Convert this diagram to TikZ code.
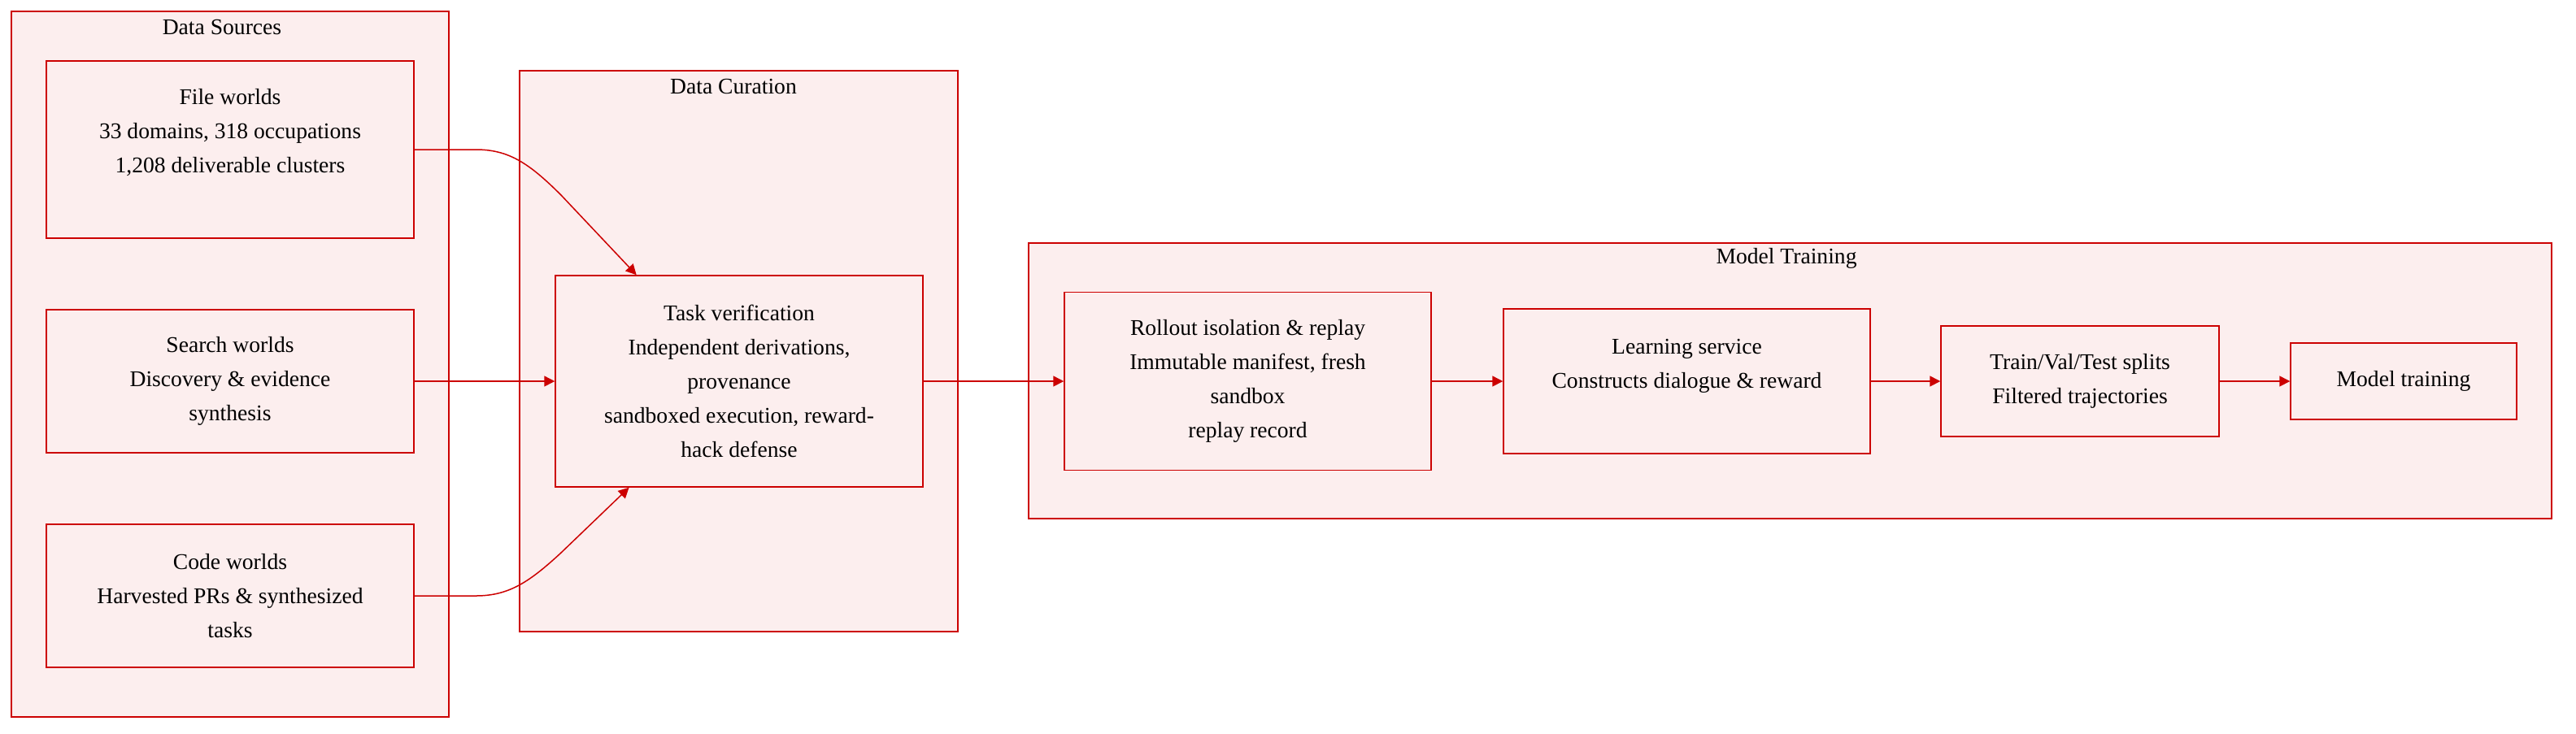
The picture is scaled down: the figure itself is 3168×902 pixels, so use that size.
\documentclass[tikz,border=0pt]{standalone}
\usepackage{fontspec}
\setmainfont{Liberation Serif}
\usetikzlibrary{arrows.meta}

\begin{document}
\begin{tikzpicture}[x=0.5pt,y=0.5pt,yscale=-1,xscale=1,
  every node/.style={font=\fontsize{13.8}{21}\selectfont, text=black},
  cluster/.style={draw={rgb, 255:red, 204; green, 0; blue, 0}, fill={rgb, 255:red, 252; green, 238; blue, 238}, line width=0.75pt, inner sep=0pt},
  box/.style={cluster, align=center},
  flow/.style={draw={rgb, 255:red, 204; green, 0; blue, 0}, line width=0.75pt, -{Triangle[length=6.5pt,width=6.5pt]}}]
\useasboundingbox (0,0) rectangle (3168,902); %diagram is 3168 by 902

%Cluster: Data Sources
\node [cluster, minimum width=269pt, minimum height=434pt] (srcs) at (283,448) {};
\node (srcs-title) at (273,33) {Data Sources};
%Cluster: Data Curation
\node [cluster, minimum width=269.5pt, minimum height=345pt] (cur) at (908.5,432) {};
\node (cur-title) at (902,106) {Data Curation};
%Cluster: Model Training
\node [cluster, minimum width=936.5pt, minimum height=169.5pt] (trn) at (2201.5,468.5) {};
\node (trn-title) at (2197,318) {Model Training};

%Shape: Rectangle - file worlds
\node [box, minimum width=226pt, minimum height=109pt] (file) at (283,184) {};
\node [align=center] (file-txt) at (283,163) {File worlds\\33 domains, 318 occupations\\1,208 deliverable clusters};
%Shape: Rectangle - search worlds
\node [box, minimum width=226pt, minimum height=88pt] (search) at (283,469) {Search worlds\\Discovery \& evidence\\synthesis};
%Shape: Rectangle - code worlds
\node [box, minimum width=226pt, minimum height=88pt] (code) at (283,733) {Code worlds\\Harvested PRs \& synthesized\\tasks};
%Shape: Rectangle - verification
\node [box, minimum width=226pt, minimum height=130pt] (verify) at (909,469) {Task verification\\Independent derivations,\\provenance\\sandboxed execution, reward-\\hack defense};

%Shape: Rectangle - rollout
\node [box, minimum width=225.5pt, minimum height=109.5pt] (rollout) at (1534.5,469) {Rollout isolation \& replay\\Immutable manifest, fresh\\sandbox\\replay record};
%Shape: Rectangle - learning service
\node [box, minimum width=225.5pt, minimum height=89pt] (learn) at (2074.5,469) {};
\node [align=center] (learn-txt) at (2074.5,450) {Learning service\\Constructs dialogue \& reward};
%Shape: Rectangle - splits
\node [box, minimum width=171pt, minimum height=68pt] (split) at (2558,469) {Train/Val/Test splits\\Filtered trajectories};
%Shape: Rectangle - model training
\node [box, minimum width=139pt, minimum height=47pt] (final) at (2956,469) {Model training};

%Curve Lines
\draw [flow] (file.east) -- (585,184) .. controls (625,184) and (650,200) .. (690,240) -- (verify.134);
\draw [flow] (search.east) -- (verify.west);
\draw [flow] (code.east) -- (585,733) .. controls (625,733) and (650,717) .. (690,680) -- (verify.224);
%Straight Lines
\draw [flow] (verify.east) -- (rollout.west);
\draw [flow] (rollout.east) -- (learn.west);
\draw [flow] (learn.east) -- (split.west);
\draw [flow] (split.east) -- (final.west);

\end{tikzpicture}
\end{document}
